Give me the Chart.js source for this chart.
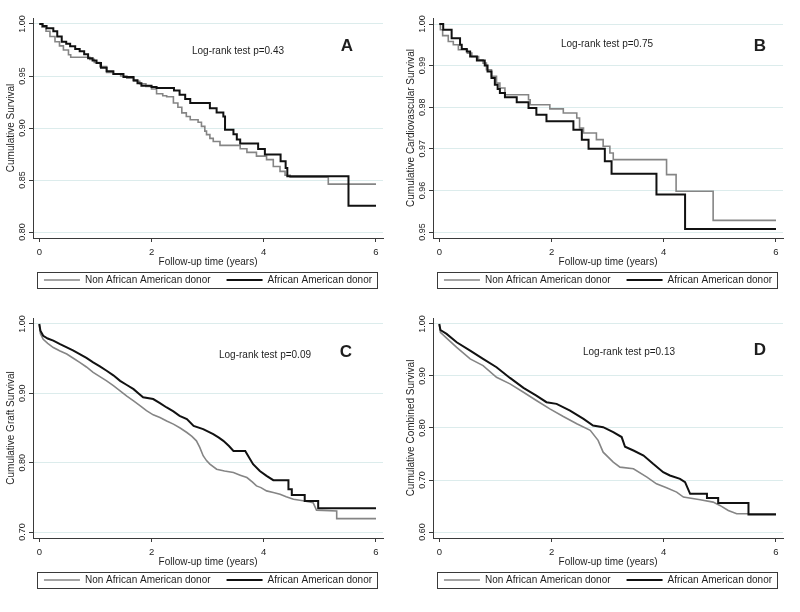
<!DOCTYPE html>
<html><head><meta charset="utf-8">
<script src="https://cdn.jsdelivr.net/npm/chart.js@4/dist/chart.umd.min.js"></script>
<style>
html,body{margin:0;padding:0;background:#fff;}
#wrap{position:relative;width:800px;height:612px;background:#fff;}
.cell{position:absolute;width:400px;height:300px;}
canvas{display:block;}
</style></head><body>
<div id="wrap">
<div class="cell" style="left:0;top:0"><canvas id="cA" width="400" height="300"></canvas></div>
<div class="cell" style="left:400px;top:0"><canvas id="cB" width="400" height="300"></canvas></div>
<div class="cell" style="left:0;top:300px"><canvas id="cC" width="400" height="300"></canvas></div>
<div class="cell" style="left:400px;top:300px"><canvas id="cD" width="400" height="300"></canvas></div>
</div>
<script>
// ---------- DATA ----------
const seriesLabels = ['Non African American donor', 'African American donor'];
const xTickValues = [0, 2, 4, 6];

// Panel A: Cumulative Survival
const aNonT = [0, 0.05, 0.12, 0.19, 0.28, 0.36, 0.43, 0.52, 0.56, 0.9, 0.98, 1.08, 1.2, 1.32, 1.45, 1.56, 1.68, 1.79, 1.9, 2.0, 2.09, 2.2, 2.27, 2.39, 2.47, 2.54, 2.62, 2.69, 2.83, 2.89, 2.95, 2.98, 3.04, 3.1, 3.22, 3.58, 3.7, 3.87, 4.05, 4.17, 4.29, 4.38, 4.47, 5.15, 6.0];
const aNonS = [1.0, 0.997, 0.993, 0.988, 0.983, 0.979, 0.975, 0.9705, 0.968, 0.966, 0.963, 0.959, 0.9535, 0.952, 0.950, 0.948, 0.945, 0.9426, 0.940, 0.9375, 0.933, 0.931, 0.930, 0.924, 0.920, 0.9145, 0.911, 0.908, 0.9055, 0.9016, 0.897, 0.8936, 0.890, 0.887, 0.8833, 0.880, 0.8766, 0.873, 0.8696, 0.863, 0.8583, 0.8545, 0.8526, 0.846, 0.846];
const aAAT = [0, 0.06, 0.13, 0.25, 0.32, 0.4, 0.48, 0.55, 0.64, 0.72, 0.8, 0.87, 0.95, 1.02, 1.1, 1.2, 1.32, 1.5, 1.68, 1.75, 1.82, 2.0, 2.09, 2.4, 2.5, 2.6, 2.69, 3.04, 3.16, 3.28, 3.31, 3.46, 3.52, 3.58, 3.9, 4.02, 4.3, 4.39, 4.42, 5.51, 6.0];
const aAAS = [1.0, 0.998, 0.996, 0.993, 0.988, 0.983, 0.981, 0.9785, 0.976, 0.9737, 0.971, 0.967, 0.965, 0.9625, 0.958, 0.9545, 0.952, 0.949, 0.946, 0.943, 0.9407, 0.9394, 0.9385, 0.936, 0.932, 0.928, 0.924, 0.919, 0.915, 0.911, 0.8984, 0.894, 0.889, 0.885, 0.8798, 0.8744, 0.868, 0.8615, 0.8535, 0.8253, 0.8253];

// Panel B: Cumulative Cardiovascular Survival
const bNonT = [0, 0.02, 0.06, 0.16, 0.25, 0.34, 0.5, 0.58, 0.7, 0.78, 0.84, 0.93, 1.02, 1.08, 1.17, 1.59, 1.62, 1.97, 2.21, 2.45, 2.5, 2.57, 2.8, 2.92, 3.04, 3.1, 4.05, 4.22, 4.88, 6.0];
const bNonS = [1.0, 0.9986, 0.9972, 0.9958, 0.995, 0.9938, 0.993, 0.9922, 0.9914, 0.9906, 0.989, 0.9874, 0.9858, 0.9846, 0.983, 0.9818, 0.9806, 0.9796, 0.9786, 0.9774, 0.975, 0.9738, 0.9722, 0.9706, 0.969, 0.9674, 0.9638, 0.9598, 0.9528, 0.9528];
const bAAT = [0, 0.07, 0.22, 0.37, 0.4, 0.49, 0.55, 0.67, 0.81, 0.86, 0.93, 0.99, 1.04, 1.08, 1.17, 1.38, 1.59, 1.73, 1.91, 2.39, 2.54, 2.66, 2.95, 3.07, 3.87, 4.38, 6.0];
const bAAS = [1.0, 0.9986, 0.9966, 0.995, 0.994, 0.9934, 0.9922, 0.9912, 0.990, 0.9886, 0.987, 0.9854, 0.9844, 0.9834, 0.9824, 0.9812, 0.9798, 0.9782, 0.9766, 0.9746, 0.9722, 0.970, 0.967, 0.964, 0.959, 0.9507, 0.9507];

// Panel C: Cumulative Graft Survival
const cNonT = [0, 0.02, 0.07, 0.15, 0.25, 0.37, 0.49, 0.6, 0.72, 0.84, 0.96, 1.08, 1.2, 1.32, 1.44, 1.56, 1.68, 1.8, 1.91, 2.03, 2.15, 2.27, 2.39, 2.51, 2.63, 2.72, 2.8, 2.86, 2.92, 2.98, 3.04, 3.16, 3.3, 3.46, 3.58, 3.7, 3.8, 3.87, 3.95, 4.05, 4.17, 4.29, 4.4, 4.53, 4.7, 4.88, 4.94, 5.3, 5.3, 6.0];
const cNonS = [1.0, 0.986, 0.978, 0.972, 0.966, 0.961, 0.9567, 0.951, 0.9446, 0.938, 0.9303, 0.924, 0.918, 0.911, 0.9037, 0.896, 0.889, 0.882, 0.875, 0.869, 0.8652, 0.860, 0.8556, 0.850, 0.8435, 0.838, 0.8315, 0.822, 0.810, 0.803, 0.798, 0.7906, 0.788, 0.7857, 0.782, 0.7785, 0.772, 0.7665, 0.764, 0.7593, 0.757, 0.7545, 0.751, 0.7472, 0.745, 0.7424, 0.7315, 0.7304, 0.7193, 0.7193];
const cAAT = [0, 0.02, 0.07, 0.15, 0.25, 0.37, 0.49, 0.6, 0.72, 0.84, 0.96, 1.08, 1.2, 1.32, 1.44, 1.56, 1.68, 1.78, 1.85, 2.03, 2.15, 2.27, 2.39, 2.5, 2.63, 2.75, 2.92, 3.1, 3.2, 3.28, 3.38, 3.46, 3.67, 3.72, 3.81, 3.93, 4.05, 4.17, 4.44, 4.44, 4.5, 4.5, 4.73, 4.73, 4.97, 4.97, 6.0];
const cAAS = [1.0, 0.9904, 0.983, 0.979, 0.976, 0.971, 0.9663, 0.962, 0.9567, 0.951, 0.9446, 0.939, 0.9326, 0.926, 0.918, 0.912, 0.906, 0.899, 0.8942, 0.8918, 0.886, 0.8796, 0.874, 0.8676, 0.8628, 0.853, 0.8483, 0.8411, 0.836, 0.8315, 0.824, 0.817, 0.817, 0.810, 0.7978, 0.788, 0.781, 0.7747, 0.7747, 0.7617, 0.7617, 0.7535, 0.7535, 0.7448, 0.7448, 0.7342, 0.7342];

// Panel D: Cumulative Combined Survival
const dNonT = [0, 0.02, 0.13, 0.31, 0.55, 0.78, 1.02, 1.26, 1.5, 1.73, 1.97, 2.21, 2.45, 2.69, 2.83, 2.92, 3.1, 3.22, 3.46, 3.7, 3.87, 4.05, 4.23, 4.35, 4.65, 4.88, 5.0, 5.15, 5.3, 6.0];
const dNonS = [1.0, 0.984, 0.973, 0.955, 0.9328, 0.920, 0.8976, 0.8848, 0.8688, 0.8528, 0.8368, 0.822, 0.8083, 0.7955, 0.7763, 0.7535, 0.7343, 0.7247, 0.7215, 0.7055, 0.6927, 0.685, 0.6767, 0.6671, 0.662, 0.6575, 0.6511, 0.6415, 0.635, 0.635];
const dAAT = [0, 0.02, 0.13, 0.31, 0.55, 0.78, 1.02, 1.26, 1.5, 1.73, 1.91, 2.09, 2.33, 2.57, 2.74, 2.92, 3.1, 3.25, 3.31, 3.46, 3.64, 3.81, 3.99, 4.11, 4.29, 4.38, 4.47, 4.77, 4.77, 4.97, 4.97, 5.51, 5.51, 6.0];
const dAAS = [1.0, 0.9885, 0.981, 0.9648, 0.9488, 0.9328, 0.9168, 0.8963, 0.8771, 0.8624, 0.8496, 0.8464, 0.8336, 0.8176, 0.8048, 0.8016, 0.792, 0.7826, 0.764, 0.7567, 0.7471, 0.7311, 0.7151, 0.7087, 0.7023, 0.6959, 0.6735, 0.6735, 0.6652, 0.6652, 0.6556, 0.6556, 0.6338, 0.6338];

const yTicksA = [0.80, 0.85, 0.90, 0.95, 1.00];
const yTicksB = [0.95, 0.96, 0.97, 0.98, 0.99, 1.00];
const yTicksC = [0.70, 0.80, 0.90, 1.00];
const yTicksD = [0.60, 0.70, 0.80, 0.90, 1.00];

// ---------- STYLE / LAYOUT ----------
const FONT = '"Liberation Sans", Arial, Helvetica, sans-serif';
const TEXT = '#1e1e1e';
const AXIS = '#3a3a3a';
const GRID = '#dcecec';
const GRAY = '#858585';
const BLACK = '#111111';

function pts(ts, ss) { return ts.map((t, i) => ({ x: t, y: ss[i] })); }

const panelDecor = {
  id: 'panelDecor',
  afterDraw(chart, args, o) {
    const ctx = chart.ctx, ca = chart.chartArea;
    ctx.save();
    ctx.fillStyle = TEXT;
    ctx.textAlign = 'center';
    ctx.textBaseline = 'middle';
    ctx.font = '10px ' + FONT;
    ctx.fillText(o.note, o.noteX, o.noteY);
    ctx.font = 'bold 17px ' + FONT;
    ctx.fillText(o.letter, o.letterX, o.letterY);
    // legend
    const ds = chart.data.datasets;
    ctx.font = '10px ' + FONT;
    const lineW = 36, gap = 5, itemGap = 16;
    const widths = ds.map(d => ctx.measureText(d.label).width);
    const total = widths.reduce((a, w) => a + lineW + gap + w, 0) + itemGap * (ds.length - 1);
    let x = (ca.left + ca.right) / 2 - total / 2;
    const yMid = ca.bottom + 42;
    ctx.strokeStyle = AXIS; ctx.lineWidth = 1;
    ctx.strokeRect(Math.round(x - 7) + 0.5, Math.round(yMid - 8) + 0.5, Math.round(total + 12), 16);
    ds.forEach((d, i) => {
      ctx.strokeStyle = d.borderColor; ctx.lineWidth = d.borderWidth;
      ctx.beginPath(); ctx.moveTo(x, yMid); ctx.lineTo(x + lineW, yMid); ctx.stroke();
      ctx.textAlign = 'left'; ctx.fillStyle = TEXT;
      ctx.fillText(d.label, x + lineW + gap, yMid + 0.5);
      x += lineW + gap + widths[i] + itemGap;
    });
    ctx.restore();
  }
};

function makeChart(id, cfg) {
  const span = cfg.yTicks[cfg.yTicks.length - 1] - cfg.yTicks[0];
  const m = span * 6 / 208;
  new Chart(document.getElementById(id), {
    type: 'line',
    data: {
      datasets: [
        { label: seriesLabels[0], data: pts(cfg.nonT, cfg.nonS), borderColor: GRAY, borderWidth: 1.6, stepped: cfg.stepped, pointRadius: 0, fill: false, order: 1, tension: 0 },
        { label: seriesLabels[1], data: pts(cfg.aaT, cfg.aaS), borderColor: BLACK, borderWidth: 2, stepped: cfg.stepped, pointRadius: 0, fill: false, order: 0, tension: 0 }
      ]
    },
    options: {
      responsive: false,
      animation: false,
      devicePixelRatio: 1,
      layout: { padding: { left: 0, right: 17, top: 18, bottom: 32 } },
      plugins: {
        legend: { display: false },
        tooltip: { enabled: false },
        panelDecor: cfg.decor
      },
      scales: {
        x: {
          type: 'linear', min: -0.112, max: 6.125,
          afterBuildTicks: s => { s.ticks = xTickValues.map(v => ({ value: v })); },
          afterFit: s => { s.height = 30; },
          ticks: { color: TEXT, font: { family: FONT, size: 9.5 }, padding: 5, maxRotation: 0, callback: v => String(v) },
          grid: { drawOnChartArea: false, drawTicks: true, tickLength: 4, tickColor: AXIS, tickWidth: 1 },
          border: { display: true, color: AXIS, width: 1 },
          title: { display: true, text: 'Follow-up time (years)', color: TEXT, font: { family: FONT, size: 10 }, padding: { top: 0, bottom: 0 } }
        },
        y: {
          type: 'linear', min: cfg.yTicks[0] - m, max: cfg.yTicks[cfg.yTicks.length - 1] + m,
          afterBuildTicks: s => { s.ticks = cfg.yTicks.map(v => ({ value: v })); },
          afterFit: s => { s.width = 33; },
          ticks: { color: TEXT, font: { family: FONT, size: 9 }, padding: -2, minRotation: 90, maxRotation: 90, crossAlign: 'center', callback: v => Number(v).toFixed(2) },
          grid: { drawOnChartArea: true, color: GRID, lineWidth: 1, drawTicks: true, tickLength: 4, tickColor: AXIS, tickWidth: 1 },
          border: { display: true, color: AXIS, width: 1 },
          title: { display: true, text: cfg.yTitle, color: TEXT, font: { family: FONT, size: 10 }, padding: { top: 5, bottom: 0 } }
        }
      }
    },
    plugins: [panelDecor]
  });
}

makeChart('cA', { nonT: aNonT, nonS: aNonS, aaT: aAAT, aaS: aAAS, yTicks: yTicksA, stepped: true, yTitle: 'Cumulative Survival',
  decor: { note: 'Log-rank test p=0.43', noteX: 238, noteY: 51, letter: 'A', letterX: 347, letterY: 46 } });
makeChart('cB', { nonT: bNonT, nonS: bNonS, aaT: bAAT, aaS: bAAS, yTicks: yTicksB, stepped: true, yTitle: 'Cumulative Cardiovascular Survival',
  decor: { note: 'Log-rank test p=0.75', noteX: 207, noteY: 44, letter: 'B', letterX: 360, letterY: 46 } });
makeChart('cC', { nonT: cNonT, nonS: cNonS, aaT: cAAT, aaS: cAAS, yTicks: yTicksC, stepped: false, yTitle: 'Cumulative Graft Survival',
  decor: { note: 'Log-rank test p=0.09', noteX: 265, noteY: 55, letter: 'C', letterX: 346, letterY: 52 } });
makeChart('cD', { nonT: dNonT, nonS: dNonS, aaT: dAAT, aaS: dAAS, yTicks: yTicksD, stepped: false, yTitle: 'Cumulative Combined Survival',
  decor: { note: 'Log-rank test p=0.13', noteX: 229, noteY: 52, letter: 'D', letterX: 360, letterY: 50 } });
</script>
</body></html>
